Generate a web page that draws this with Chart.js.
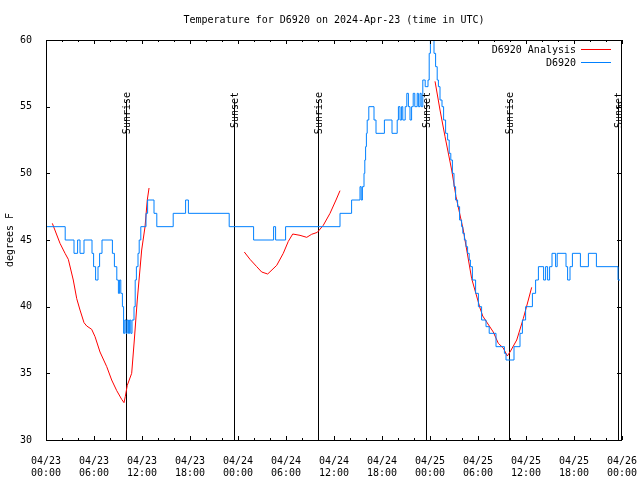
<!DOCTYPE html>
<html><head><meta charset="utf-8">
<script src="https://cdn.jsdelivr.net/npm/chart.js@4/dist/chart.umd.min.js"></script>
<style>html,body{margin:0;padding:0;background:#fff}canvas{display:block}</style>
</head><body>
<canvas id="c" width="640" height="480"></canvas>
<script>
// Hours are counted from 2024-04-23 00:00 UTC
const titleText = 'Temperature for D6920 on 2024-Apr-23 (time in UTC)';
const yAxisTitle = 'degrees F';
const xTickDates = ['04/23','04/23','04/23','04/23','04/24','04/24','04/24','04/24','04/25','04/25','04/25','04/25','04/26'];
const xTickTimes = ['00:00','06:00','12:00','18:00','00:00','06:00','12:00','18:00','00:00','06:00','12:00','18:00','00:00'];
const yTickValues = [30,35,40,45,50,55,60];
const sunriseHours = [10.0, 33.95, 57.9];
const sunsetHours = [23.55, 47.5, 71.45];
const seriesNames = ['D6920 Analysis', 'D6920'];

const analysisHours = [0.79,1.75,2.38,2.79,3.41,3.84,4.25,4.75,5.09,5.71,6.13,6.75,7.59,8.21,8.84,9.46,9.75,9.91,10.16,10.71,11.04,11.41,11.96,12.38,12.66,12.88,
  18,
  24.79,25.5,26.34,26.96,27.71,28.84,29.66,30.29,30.84,31.75,32.59,33.21,33.91,34.66,35.5,36.25,36.75,
  42,
  48.63,49.25,49.88,50.71,51.25,52.16,53.21,54.25,54.59,55.91,56.54,57.16,57.66,58.0,58.84,59.66,60.29,60.71];
const analysisTemps = [46.25,44.75,44.0,43.55,42.0,40.6,39.75,38.8,38.55,38.3,37.75,36.6,35.5,34.5,33.7,33.05,32.8,33.25,34.1,35.0,37.5,40.5,44.25,46.0,48.0,48.9,
  null,
  44.1,43.55,43.0,42.6,42.45,43.1,44.0,44.9,45.45,45.35,45.2,45.43,45.57,46.1,47.0,48.0,48.7,
  null,
  56.9,54.75,52.75,50.25,48.25,45.75,42.1,39.9,39.3,38.1,37.25,36.9,36.3,36.6,37.5,39.1,40.5,41.45];

const obsHours = [0.1,2.4,3.5,3.95,4.25,4.75,5.75,5.95,6.2,6.5,6.7,7.0,8.3,8.55,8.85,9.05,9.2,9.35,9.55,9.7,9.85,10.0,10.15,10.3,10.45,10.6,10.75,11.0,11.15,11.3,11.5,11.65,11.85,12.5,12.7,13.5,13.85,15.9,17.45,17.8,22.9,25.95,28.45,28.7,29.95,36.75,38.2,39.25,39.4,39.55,39.75,39.85,39.95,40.05,40.15,40.35,41.0,41.25,42.3,43.25,43.9,44.05,44.25,44.45,44.6,44.9,45.1,45.3,45.5,45.7,45.9,46.1,46.4,46.55,46.75,46.9,47.1,47.4,47.75,47.9,48.05,48.5,48.7,48.9,49.05,49.25,49.5,49.7,49.95,50.2,50.4,50.6,50.8,51.0,51.2,51.45,51.7,51.95,52.1,52.3,52.5,52.7,52.9,53.05,53.3,53.7,54.05,54.45,55.0,55.4,56.25,57.3,57.5,58.5,59.25,59.55,59.95,60.8,61.2,61.55,62.2,62.45,62.7,62.95,63.25,63.7,63.9,65.0,65.2,65.5,65.8,66.8,67.8,68.8,71.5,71.75];
const obsTemps = [46,45,44,45,44,45,44,43,42,43,44,45,44,43,42,41,42,41,40,38,39,38,39,38,39,38,39,40,42,43,44,45,46,47,48,47,46,47,48,47,46,45,46,45,46,47,48,49,48,49,50,51,52,53,54,55,54,53,54,53,54,55,54,55,54,55,56,55,54,55,56,55,56,55,56,55,57,56.5,57,59,60,59,58,57,56.5,55.5,55,54,53,52.5,51.5,51,50,49,48,47.5,46.5,46,45.5,45,44.5,44,43.5,43,42,41,40,39,38.5,38,37,36.5,36,37,38,39,40,41,42,43,42,43,42,43,44,43,44,43,42,43,44,43,44,43,42,42];

const FONT = "'DejaVu Sans Mono', monospace";
const RED = '#ff0000';
const BLUE = 'rgb(0,128,255)';

const deco = {
  id: 'deco',
  beforeDatasetsDraw(chart) {
    const {ctx, chartArea: a, scales: {x}} = chart;
    ctx.save();
    ctx.strokeStyle = '#000';
    ctx.lineWidth = 1;
    sunriseHours.concat(sunsetHours).forEach(h => {
      const px = Math.round(x.getPixelForValue(h)) + 0.5;
      ctx.beginPath();
      ctx.moveTo(px, a.top + 60);
      ctx.lineTo(px, a.bottom);
      ctx.stroke();
    });
    ctx.restore();
  },
  afterDraw(chart) {
    const {ctx, chartArea: a, scales: {x, y}} = chart;
    ctx.save();
    ctx.strokeStyle = '#000';
    ctx.lineWidth = 1;
    ctx.strokeRect(a.left + 0.5, a.top + 0.5, a.right - a.left - 1, a.bottom - a.top);
    ctx.beginPath();
    for (let h = 0; h <= 72; h += 2) {
      const px = Math.round(x.getPixelForValue(h)) + 0.5;
      const len = (h % 6 === 0) ? 4 : 2;
      ctx.moveTo(px, a.bottom); ctx.lineTo(px, a.bottom - len);
      ctx.moveTo(px, a.top); ctx.lineTo(px, a.top + len);
    }
    yTickValues.forEach(v => {
      const py = Math.round(y.getPixelForValue(v)) + 0.5;
      ctx.moveTo(a.left, py); ctx.lineTo(a.left + 4, py);
      ctx.moveTo(a.right - 1, py); ctx.lineTo(a.right - 5, py);
    });
    ctx.stroke();

    ctx.fillStyle = '#000';
    ctx.font = '10px ' + FONT;
    ctx.textAlign = 'center';
    ctx.textBaseline = 'middle';
    ctx.fillText(titleText, (a.left + a.right) / 2, 20);
    ctx.save();
    ctx.translate(10, (a.top + a.bottom) / 2);
    ctx.rotate(-Math.PI / 2);
    ctx.fillText(yAxisTitle, 0, 0);
    ctx.restore();
    const marks = sunriseHours.map(h => [h, 'Sunrise']).concat(sunsetHours.map(h => [h, 'Sunset']));
    marks.forEach(([h, t]) => {
      const px = Math.round(x.getPixelForValue(h)) + 1;
      ctx.save();
      ctx.translate(px, a.top + 52);
      ctx.rotate(-Math.PI / 2);
      ctx.textAlign = 'right';
      ctx.textBaseline = 'middle';
      ctx.fillText(t, 0, 0);
      ctx.restore();
    });
    const colors = [RED, BLUE];
    seriesNames.forEach((name, i) => {
      const ly = a.top + 9.5 + i * 13;
      ctx.textAlign = 'right';
      ctx.textBaseline = 'middle';
      ctx.fillStyle = '#000';
      ctx.fillText(name, 576, ly + 0.5);
      ctx.strokeStyle = colors[i];
      ctx.beginPath();
      ctx.moveTo(581, ly); ctx.lineTo(611, ly);
      ctx.stroke();
    });
    ctx.restore();
  }
};

new Chart(document.getElementById('c'), {
  type: 'line',
  data: {
    datasets: [
      {
        label: seriesNames[1],
        data: obsHours.map((h, i) => ({x: h, y: obsTemps[i]})),
        borderColor: BLUE, borderWidth: 1, pointRadius: 0,
        stepped: 'before', order: 0, fill: false
      },
      {
        label: seriesNames[0],
        data: analysisHours.map((h, i) => ({x: h, y: analysisTemps[i]})),
        borderColor: RED, borderWidth: 1, pointRadius: 0,
        spanGaps: false, tension: 0, order: 1, fill: false
      }
    ]
  },
  options: {
    responsive: false,
    animation: false,
    devicePixelRatio: 1,
    layout: {padding: {left: 0, top: 40, right: 18, bottom: 0}},
    plugins: {legend: {display: false}, title: {display: false}, tooltip: {enabled: false}},
    scales: {
      x: {
        type: 'linear', min: 0, max: 72,
        grid: {display: false}, border: {display: false},
        afterFit: s => { s.height = 40; s.paddingLeft = 0; s.paddingRight = 0; },
        ticks: {
          stepSize: 6, autoSkip: false, maxRotation: 0, minRotation: 0,
          padding: 7, color: '#000', font: {family: FONT, size: 10, lineHeight: 1.2},
          callback: v => { const i = Math.round(v / 6); return [xTickDates[i], xTickTimes[i]]; }
        }
      },
      y: {
        min: 30, max: 60,
        grid: {display: false}, border: {display: false},
        afterFit: s => { s.width = 46; s.paddingTop = 0; s.paddingBottom = 0; },
        afterBuildTicks: s => { s.ticks = yTickValues.map(v => ({value: v})); },
        ticks: {
          padding: 6, color: '#000', font: {family: FONT, size: 10},
          callback: v => String(v)
        }
      }
    }
  },
  plugins: [deco]
});
</script>
</body></html>
